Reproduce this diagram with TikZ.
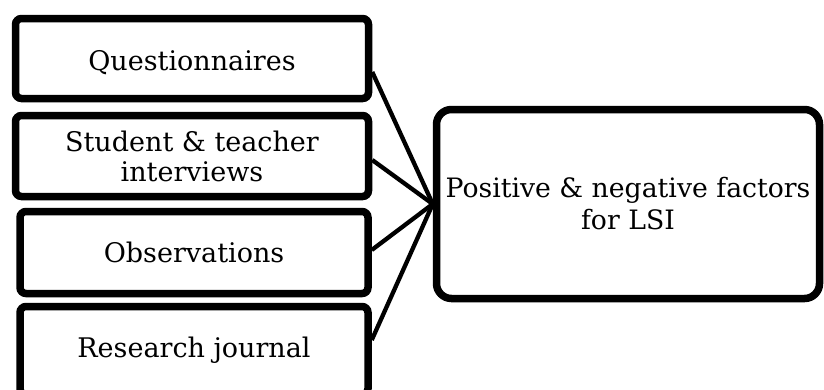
\documentclass[tikz,border=0pt]{standalone}
\usepackage{fontspec}
\setmainfont{DejaVu Serif}
\usetikzlibrary{shadows}
\begin{document}
\begin{tikzpicture}[x=1pt,y=-1pt,
  box/.style={draw=black, line width=7.5pt, rounded corners=6pt, fill=white, inner sep=0pt,
    align=center, font=\fontsize{27}{30}\selectfont,
    drop shadow={shadow xshift=2pt,shadow yshift=-3pt,opacity=0.3,fill=black}},
  bigbox/.style={box, rounded corners=15pt, font=\fontsize{26.7}{32}\selectfont},
  link/.style={line width=4.3pt}]
\useasboundingbox (0,0) rectangle (824,389);
\node[box, minimum width=353pt, minimum height=80pt] (q) at (192,58.5) {\raisebox{-4pt}[\height][\depth]{Questionnaires}};
\node[box, minimum width=353pt, minimum height=81pt] (s) at (192,156) {Student \& teacher\\interviews};
\node[box, minimum width=348pt, minimum height=82pt] (o) at (194,252.5) {Observations};
\node[box, minimum width=348pt, minimum height=88pt] (j) at (194,350.5) {Research journal};
\node[bigbox, minimum width=383pt, minimum height=189pt] (r) at (628,204) {Positive \& negative factors\\for LSI};
\coordinate (m) at (r.west);
\draw[link] ([yshift=-13.5pt]q.east) -- (m);
\draw[link] ([yshift=-4pt]s.east) -- (m);
\draw[link] ([yshift=2.5pt]o.east) -- (m);
\draw[link] ([yshift=10.5pt]j.east) -- (m);
\end{tikzpicture}
\end{document}
